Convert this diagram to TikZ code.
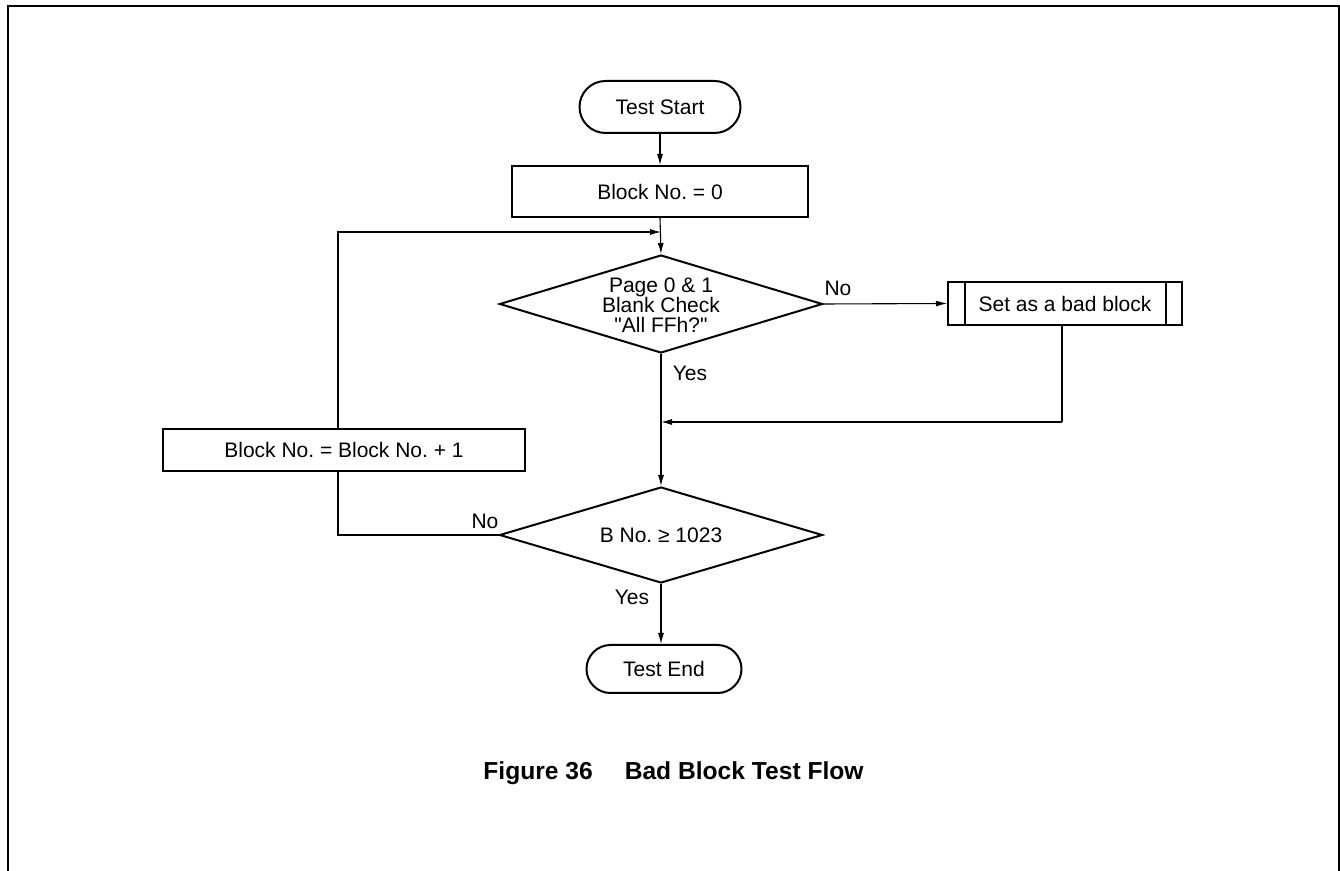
\documentclass[tikz,border=0pt]{standalone}
\usepackage{fontspec}
\setmainfont{Liberation Sans}
\newfontfamily\plainsans{Liberation Sans}[Ligatures=TeXOff]
\usetikzlibrary{shapes.geometric,shapes.misc,arrows.meta}
\frenchspacing
\begin{document}
\begin{tikzpicture}[x=0.5pt,y=-0.5pt,
  font=\fontsize{10.5pt}{12.5pt}\selectfont,
  thick box/.style={draw, line width=1pt, inner sep=0pt},
  proc/.style={thick box, rectangle},
  term/.style={thick box, rounded rectangle},
  dec/.style={thick box, diamond},
  conn/.style={line width=0.55pt},
  arr/.style={conn, -{Latex[length=5.5pt,width=3pt]}},
  lbl/.style={inner sep=0pt}]
\useasboundingbox (0,0) rectangle (1340,871);
% frame
\draw[line width=1pt] (8,871) -- (8,6) -- (1339,6) -- (1339,871);

\node[term, minimum width=80.5pt, minimum height=26pt] (start) at (660,107) {Test Start};
\node[proc, minimum width=148pt, minimum height=25.5pt] (b0) at (660,191.5) {Block No. = 0};
\node[dec, minimum width=161.5pt, minimum height=49pt] (d1) at (661,304) {};
\node[align=center, inner sep=0pt, font=\plainsans\fontsize{10.5pt}{10pt}\selectfont] (d1t) at (661,305) {Page 0 \& 1\\Blank Check\\"All FFh?"};
\node[proc, minimum width=117pt, minimum height=21.5pt] (bad) at (1065,303.5) {Set as a bad block};
\draw[line width=1pt] ([xshift=9pt]bad.north west) -- ([xshift=9pt]bad.south west);
\draw[line width=1pt] ([xshift=-8.5pt]bad.north east) -- ([xshift=-8.5pt]bad.south east);
\node[dec, minimum width=161.5pt, minimum height=48pt] (d2) at (661,535) {};
\node[inner sep=0pt] (d2t) at (661,535) {B No. ≥ 1023};
\node[proc, minimum width=181pt, minimum height=21pt] (inc) at (344,450) {Block No. = Block No. + 1};
\node[term, minimum width=77.5pt, minimum height=24pt] (end) at (664,669) {Test End};

\coordinate (j1) at (661,232);
\coordinate (j2) at (661,422);
\coordinate (lpTop) at (338,232);
\coordinate (lpBot) at (338,535);
\coordinate (bbDown) at (1062,422);

\draw[arr] (start.south) -- (b0.north);
\draw[arr] (b0.south) -- (d1.north);
\draw[arr] (inc.north -| lpTop) -- (lpTop) -- (j1);
\draw[arr] (d1.east) -- (bad.west);
\draw[conn] (bad.south -| bbDown) -- (bbDown);
\draw[arr] (bbDown) -- (j2);
\draw[arr] (d1.south) -- (d2.north);
\draw[conn] (d2.west) -- (lpBot) -- (inc.south -| lpBot);
\draw[arr] (d2.south) -- (end.north -| d2.south);

\node[lbl] (no1) at (838,288) {No};
\node[lbl] (yes1) at (690,373) {Yes};
\node[lbl] (no2) at (485,521) {No};
\node[lbl] (yes2) at (632,597) {Yes};

\node[inner sep=0pt, font=\fontsize{12.3pt}{15pt}\selectfont\bfseries] (cap) at (673.5,773) {Figure 36\hspace*{16pt}Bad Block Test Flow};
\end{tikzpicture}
\end{document}
